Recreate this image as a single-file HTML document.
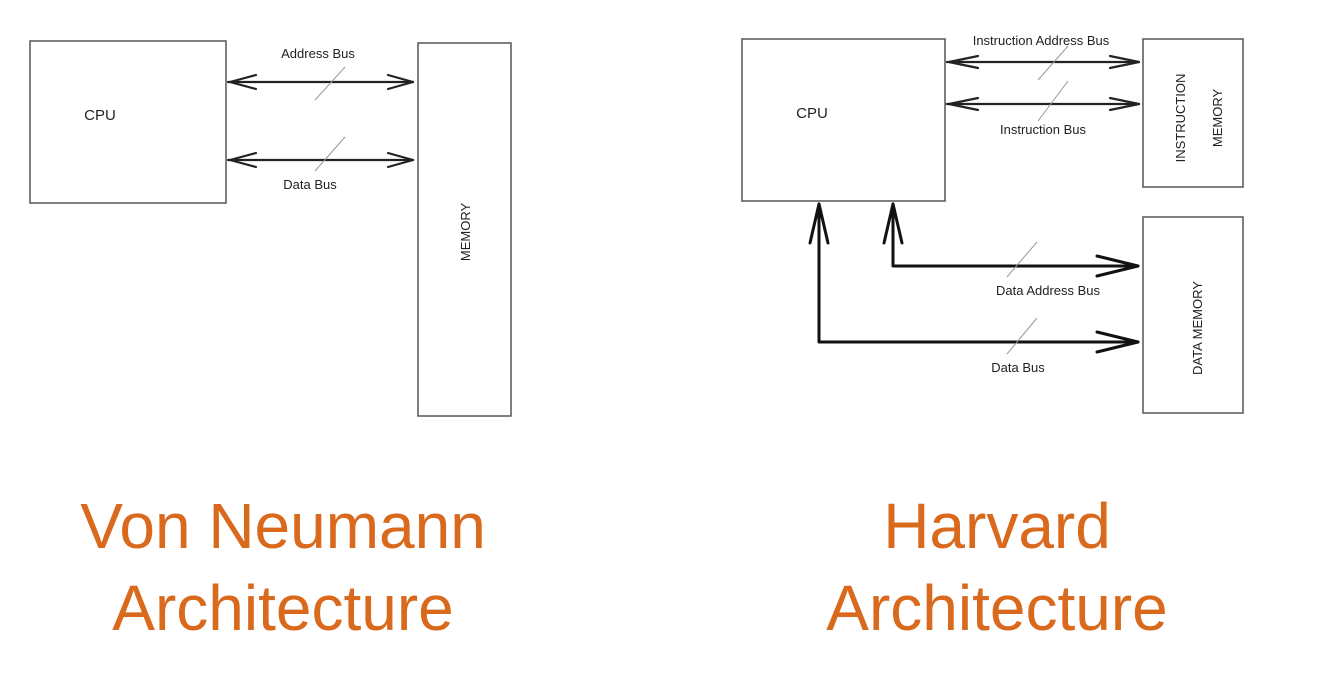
<!DOCTYPE html>
<html><head><meta charset="utf-8"><style>
html,body{margin:0;padding:0;background:#fff;}
svg{display:block}
</style></head><body>
<svg width="1330" height="686" viewBox="0 0 1330 686" xmlns="http://www.w3.org/2000/svg">
<g fill="none" stroke="#555" stroke-width="1.5">
<rect x="30" y="41" width="196" height="162"/>
<rect x="418" y="43" width="93" height="373"/>
<rect x="742" y="39" width="203" height="162"/>
<rect x="1143" y="39" width="100" height="148"/>
<rect x="1143" y="217" width="100" height="196"/>
</g>
<g fill="none" stroke="#222" stroke-width="2.2" stroke-linecap="round" stroke-linejoin="round">
<line x1="228" y1="82" x2="413" y2="82"/><polyline points="256,75 230,82 256,89"/><polyline points="388,75 413,82 388,89"/>
<line x1="228" y1="160" x2="413" y2="160"/><polyline points="256,153 230,160 256,167"/><polyline points="388,153 413,160 388,167"/>
<line x1="947" y1="62" x2="1139" y2="62"/><polyline points="978,56 949,62 978,68"/><polyline points="1110,56 1139,62 1110,68"/>
<line x1="947" y1="104" x2="1139" y2="104"/><polyline points="978,98 949,104 978,110"/><polyline points="1110,98 1139,104 1110,110"/>
</g>
<g fill="none" stroke="#111" stroke-width="3" stroke-linecap="round" stroke-linejoin="round">
<polyline points="893,204 893,266 1138,266"/><polyline points="884,243 893,204 902,243"/><polyline points="1097,256 1138,266 1097,276"/>
<polyline points="819,204 819,342 1138,342"/><polyline points="810,243 819,204 828,243"/><polyline points="1097,332 1138,342 1097,352"/>
</g>
<g stroke="#999" stroke-width="1">
<line x1="315" y1="100" x2="345" y2="67"/><line x1="315" y1="171" x2="345" y2="137"/>
<line x1="1038" y1="80" x2="1068" y2="46"/><line x1="1038" y1="121" x2="1068" y2="81"/>
<line x1="1007" y1="277" x2="1037" y2="242"/><line x1="1007" y1="354" x2="1037" y2="318"/>
</g>
<g font-family="Liberation Sans, sans-serif" fill="#222" font-size="13" text-anchor="middle">
<text x="100" y="120" font-size="15">CPU</text>
<text x="318" y="58">Address Bus</text>
<text x="310" y="189">Data Bus</text>
<text transform="translate(470,232) rotate(-90)">MEMORY</text>
<text x="812" y="118" font-size="15">CPU</text>
<text x="1041" y="45">Instruction Address Bus</text>
<text x="1043" y="134">Instruction Bus</text>
<text x="1048" y="295">Data Address Bus</text>
<text x="1018" y="372">Data Bus</text>
<text transform="translate(1185,118) rotate(-90)">INSTRUCTION</text>
<text transform="translate(1222,118) rotate(-90)">MEMORY</text>
<text transform="translate(1202,328) rotate(-90)">DATA MEMORY</text>
</g>
<g font-family="Liberation Sans, sans-serif" fill="#d9691c" font-size="64" text-anchor="middle">
<text x="283" y="548">Von Neumann</text>
<text x="283" y="630">Architecture</text>
<text x="997" y="548">Harvard</text>
<text x="997" y="630">Architecture</text>
</g>
</svg>
</body></html>
